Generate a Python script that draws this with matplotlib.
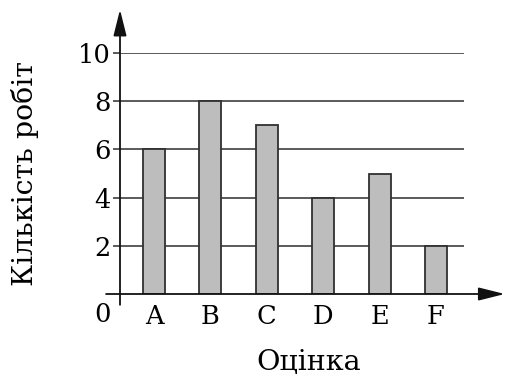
import matplotlib
matplotlib.use("Agg")
import matplotlib.pyplot as plt

# data
grades = ["A", "B", "C", "D", "E", "F"]
counts = [6, 8, 7, 4, 5, 2]
y_ticks = [2, 4, 6, 8, 10]

plt.rcParams['font.family'] = ['DejaVu Serif']

W, H = 509, 378
fig = plt.figure(figsize=(W / 100, H / 100), dpi=100)
# axes box = area inside the grid: y axis at px 120, last grid at px 464
ax = fig.add_axes([120 / W, 84 / H, 344 / W, 241 / H])

pos = list(range(1, len(grades) + 1))
ax.bar(pos, counts, width=0.39, color="#bdbdbd", edgecolor="#303030",
       linewidth=1.3, zorder=3)

ax.set_xlim(0.397, 6.497)
ax.set_ylim(0, 10)

ax.set_yticks(y_ticks)
ax.set_yticklabels([str(t) for t in y_ticks], fontsize=18.5)
ax.tick_params(axis="y", length=5, width=1.4, color="#5a5a5a", pad=2)
ax.set_xticks(pos)
ax.set_xticklabels(grades, fontsize=18.5)
ax.tick_params(axis="x", length=0, pad=7)
ax.grid(axis="y", color="#5a5a5a", linewidth=1.4, zorder=1)
for s in ax.spines.values():
    s.set_visible(False)

# axes with arrow heads
arrow = dict(arrowstyle="-|>,head_length=1.6,head_width=0.4", color="#111111",
             linewidth=1.3, shrinkA=0, shrinkB=0)
ax.annotate("", xy=(0.397, 11.8), xytext=(0.397, -0.45),
            arrowprops=arrow, annotation_clip=False, zorder=4)
ax.annotate("", xy=(7.22, 0), xytext=(0.15, 0),
            arrowprops=arrow, annotation_clip=False, zorder=4)

ax.text(0.08, -0.87, "0", fontsize=18.5, ha="center", va="center")

fig.text(25 / W, 1 - 174 / H, "Кількість робіт", rotation=90,
         fontsize=20.5, ha="center", va="center")
fig.text(309 / W, 1 - 363 / H, "Оцінка", fontsize=20.5,
         ha="center", va="center")

fig.savefig("out.png", dpi=100, facecolor="white")
